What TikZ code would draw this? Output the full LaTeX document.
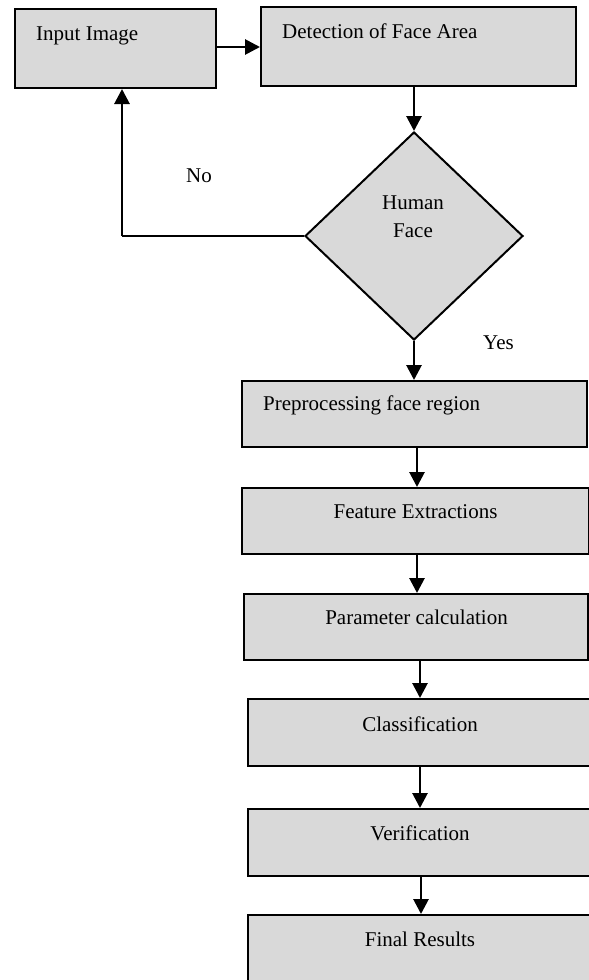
\documentclass[tikz,border=0pt]{standalone}
\usepackage{fontspec}
\setmainfont{Liberation Serif}
\usetikzlibrary{shapes.geometric,arrows.meta}
\definecolor{boxgray}{HTML}{D9D9D9}
\begin{document}
\begin{tikzpicture}[x=1pt,y=-1pt,
  box/.style={draw=black,fill=boxgray,line width=2pt,rectangle,inner sep=0pt},
  txt/.style={inner sep=0pt,font=\fontsize{21}{25}\selectfont},
  arr/.style={line width=2.8pt,-{Triangle[width=15pt,length=15pt]}},
  plain/.style={line width=2.8pt}]
\useasboundingbox (0,0) rectangle (589,980);
\clip (0,0) rectangle (589,980);
\fill[white] (0,0) rectangle (589,980);
% boxes
\node[box,minimum width=201pt,minimum height=79pt] (inp) at (115.5,48.5) {};
\node[box,minimum width=315pt,minimum height=79pt] (det) at (418.5,46.5) {};
\node[draw=black,fill=boxgray,line width=2pt,diamond,inner sep=0pt,minimum width=218pt,minimum height=208pt] (dia) at (414,236) {};
\node[box,minimum width=345pt,minimum height=66pt] (pre) at (414.5,414) {};
\node[box,minimum width=347pt,minimum height=66pt] (fea) at (415.5,521) {};
\node[box,minimum width=344pt,minimum height=66pt] (par) at (416,627) {};
\node[box,minimum width=344pt,minimum height=67pt] (cla) at (420,732.5) {};
\node[box,minimum width=344pt,minimum height=67pt] (ver) at (420,842.5) {};
\node[box,minimum width=344pt,minimum height=72pt] (fin) at (420,951) {};
% texts
\node[txt,anchor=base west] (tinp) at (36,40) {Input Image};
\node[txt,anchor=base west] (tdet) at (282,38) {Detection of Face Area};
\node[txt,anchor=base] (thum) at (413,209) {Human};
\node[txt,anchor=base] (tface) at (413,237) {Face};
\node[txt,anchor=base west] (tno) at (186,182) {No};
\node[txt,anchor=base west] (tyes) at (483,349) {Yes};
\node[txt,anchor=base west] (tpre) at (263,410) {Preprocessing face region};
\node[txt,anchor=base] (tfea) at (415.5,518) {Feature Extractions};
\node[txt,anchor=base] (tpar) at (416.5,624) {Parameter calculation};
\node[txt,anchor=base] (tcla) at (420,731) {Classification};
\node[txt,anchor=base] (tver) at (420,840) {Verification};
\node[txt,anchor=base] (tfin) at (420,946) {Final Results};
% connectors
\coordinate (nocorner) at (122,236);
\draw[arr] ([yshift=1.5pt]inp.east) -- ([yshift=1.5pt]inp.east -| det.west);
\draw[arr] (dia.north |- det.south) -- (dia.north);
\draw[plain] (dia.west) -- (nocorner);
\draw[arr] (nocorner) -- (nocorner |- inp.south);
\draw[arr] (dia.south) -- (dia.south |- pre.north);
\draw[arr] ([xshift=2.5pt]pre.south) -- ([xshift=2.5pt]pre.south |- fea.north);
\draw[arr] ([xshift=1.5pt]fea.south) -- ([xshift=1.5pt]fea.south |- par.north);
\draw[arr] (cla.north |- par.south) -- (cla.north);
\draw[arr] (cla.south) -- (ver.north);
\draw[arr] ([xshift=1pt]ver.south) -- ([xshift=1pt]ver.south |- fin.north);
\end{tikzpicture}
\end{document}
